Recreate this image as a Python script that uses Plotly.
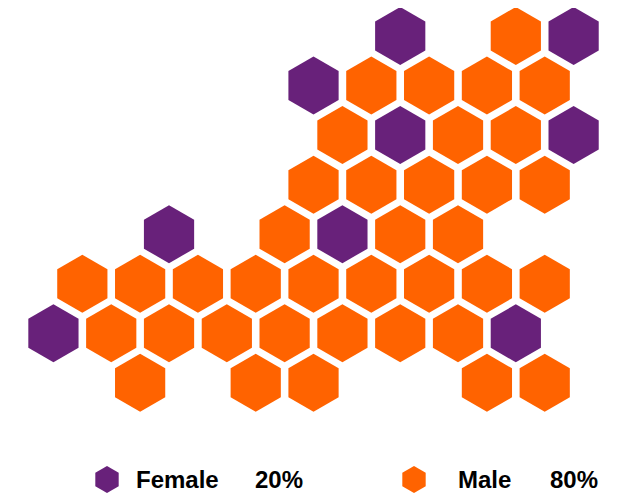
import plotly.graph_objects as go

PURPLE = "#68217A"
ORANGE = "#FF6300"

# grid cells: (row, half-step column)
female_rows = [0, 0, 1, 2, 2, 4, 4, 6, 6]
female_cols = [12, 18, 9, 12, 18, 4, 10, 0, 16]
male_rows = [0, 1, 1, 1, 1, 2, 2, 2, 3, 3, 3, 3, 3, 4, 4, 4,
             5, 5, 5, 5, 5, 5, 5, 5, 5,
             6, 6, 6, 6, 6, 6, 6,
             7, 7, 7, 7, 7]
male_cols = [16, 11, 13, 15, 17, 10, 14, 16, 9, 11, 13, 15, 17, 8, 12, 14,
             1, 3, 5, 7, 9, 11, 13, 15, 17,
             2, 4, 6, 8, 10, 12, 14,
             3, 7, 9, 15, 17]

legend_names = ["Female", "Male"]
legend_shares = ["20%", "80%"]
legend_colors = [PURPLE, ORANGE]
legend_swatch_x = [107, 414]
legend_name_x = [133.5, 455.5]
legend_share_x = [253, 547.5]
legend_y = 479.5

HEX = 58
fig = go.Figure()
for name, rows, cols, color in [("Female", female_rows, female_cols, PURPLE),
                                ("Male", male_rows, male_cols, ORANGE)]:
    fig.add_trace(go.Scatter(x=cols, y=rows, mode="markers", name=name,
                             marker=dict(symbol="hexagon", size=HEX, color=color, line=dict(width=0))))
fig.add_trace(go.Scatter(x=legend_swatch_x, y=[legend_y] * 2, xaxis="x2", yaxis="y2", mode="markers",
                         marker=dict(symbol="hexagon", size=27, color=legend_colors, line=dict(width=0))))
font = dict(family="Liberation Sans", size=24, color="#000000")
for name, share, nx, sx in zip(legend_names, legend_shares, legend_name_x, legend_share_x):
    fig.add_annotation(x=nx, y=legend_y, xref="x2", yref="y2", text=f"<b>{name}</b>", showarrow=False,
                       xanchor="left", yanchor="middle", font=font)
    fig.add_annotation(x=sx, y=legend_y, xref="x2", yref="y2", text=f"<b>{share}</b>", showarrow=False,
                       xanchor="left", yanchor="middle", font=font)

hidden = dict(visible=False, showgrid=False, zeroline=False)
# the page's default 8px body margin offsets the plot, so the plot is 612x492
fig.update_layout(
    width=612, height=492, margin=dict(l=0, r=0, t=0, b=0), showlegend=False,
    paper_bgcolor="white", plot_bgcolor="white",
    xaxis=dict(range=[-1.572, 19.605], **hidden),
    yaxis=dict(range=[9.364, -0.565], **hidden),
    xaxis2=dict(range=[8, 620], overlaying="x", **hidden),
    yaxis2=dict(range=[500, 8], overlaying="y", **hidden),
)
fig.write_html("out.html")
